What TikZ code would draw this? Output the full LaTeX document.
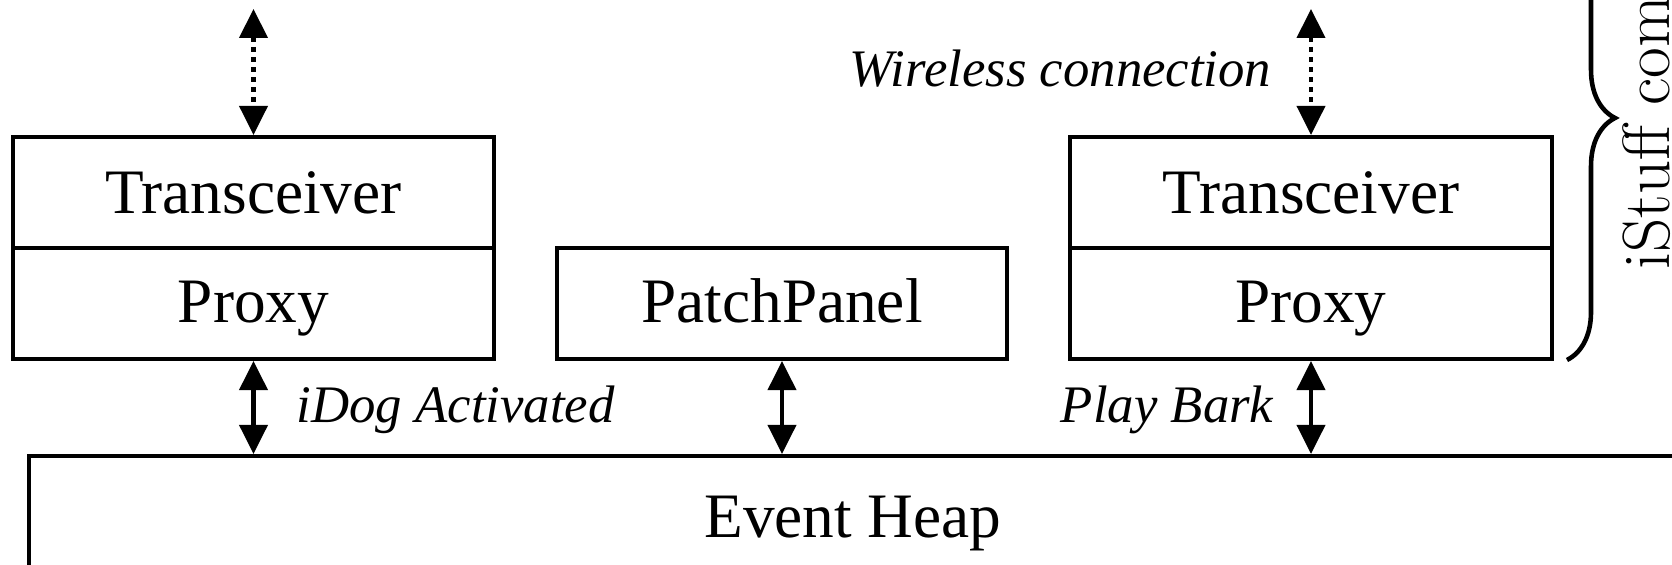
\documentclass[tikz,border=0pt]{standalone}
\usepackage{fontspec}
\newfontfamily\tnr{Liberation Serif}
\usetikzlibrary{arrows.meta,decorations.pathreplacing}
\begin{document}
\begin{tikzpicture}[x=0.01cm,y=-0.01cm,
  box/.style={draw,line width=1.15pt,minimum height=1.11cm,inner sep=0pt,
    font=\tnr\fontsize{18}{20}\selectfont,text height=11.9pt,text depth=0pt},
  lowtext/.style={text height=11.9pt,text depth=0.9pt},
  lab/.style={font=\tnr\itshape\fontsize{15}{18}\selectfont,inner sep=0pt,
    text height=9.9pt,text depth=0pt},
  arr/.style={line width=1.15pt,
    {Triangle[width=0.28cm,length=0.29cm]}-{Triangle[width=0.28cm,length=0.29cm]}},
  dotarr/.style={arr,dash pattern=on 0.05cm off 0.05cm},
  bracestyle/.style={line width=1.3pt,decorate,decoration={brace,amplitude=0.48cm}}]
\useasboundingbox (0,0) rectangle (1672,565);
\clip (0,0) rectangle (1672,565);

% left component
\node[box,minimum width=4.81cm] (tL) at (253.5,192.5) {Transceiver};
\node[box,minimum width=4.81cm,lowtext] (pL) at (253.5,303.5) {Proxy};
% patch panel
\node[box,minimum width=4.50cm,lowtext] (pp) at (782,303.5) {PatchPanel};
% right component
\node[box,minimum width=4.81cm] (tR) at (1311,192.5) {Transceiver};
\node[box,minimum width=4.81cm,lowtext] (pR) at (1311,303.5) {Proxy};
% event heap
\node[box,minimum width=16.48cm,minimum height=1.22cm] (eh) at (853,517) {Event Heap};

% wireless connections
\coordinate (wL) at (253.5,9);
\coordinate (wR) at (1311,9);
\draw[dotarr] (wL) -- (tL.north);
\draw[dotarr] (wR) -- (tR.north);

% event heap connections
\draw[arr] (pL.south) -- (pL.south |- eh.north);
\draw[arr] (pp.south) -- (pp.south |- eh.north);
\draw[arr] (pR.south) -- (pR.south |- eh.north);

% labels
\node[lab,anchor=east] (wl) at (1272,69) {Wireless connection};
\node[lab,anchor=west] (ida) at (296,405) {iDog Activated};
\node[lab,anchor=east] (pb) at (1274,405) {Play Bark};

% brace and rotated caption
\coordinate (bTop) at (1567,-124);
\coordinate (bBot) at (1567,360);
\draw[bracestyle] (bTop) -- (bBot);
\node[rotate=90,anchor=base west,inner sep=0pt,font=\fontsize{19}{22}\selectfont] (ist) at (1669,270) {iStuff com};
\end{tikzpicture}
\end{document}
